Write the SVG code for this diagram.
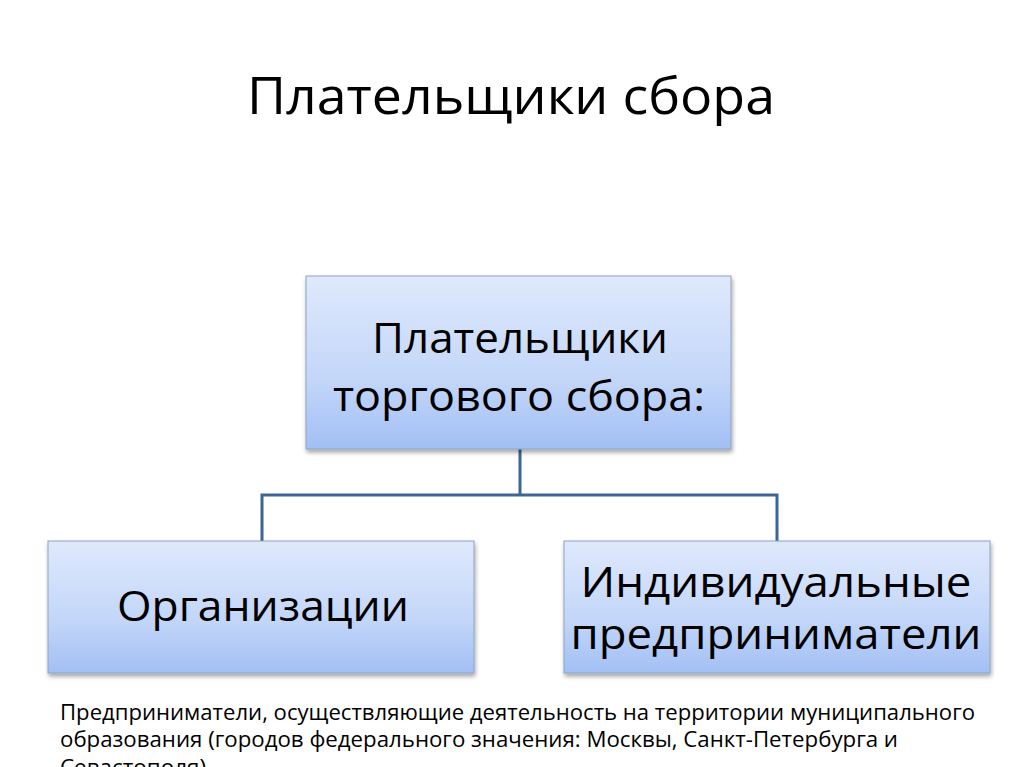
<svg xmlns="http://www.w3.org/2000/svg" width="1024" height="767" viewBox="0 0 1024 767">
<defs>
<linearGradient id="g" x1="0" y1="0" x2="0" y2="1">
<stop offset="0" stop-color="#dfe9fc"/>
<stop offset="0.6" stop-color="#c3d6f9"/>
<stop offset="1" stop-color="#a2bff4"/>
</linearGradient>
<filter id="sh" x="-5%" y="-5%" width="110%" height="120%">
<feDropShadow dx="1" dy="3" stdDeviation="2" flood-color="#000" flood-opacity="0.35"/>
</filter>
</defs>
<style>
.box{fill:url(#g);stroke:#8ea3c2;stroke-width:1;filter:url(#sh)}
.t{font-family:"Open Sans","Noto Sans","Liberation Sans",sans-serif;fill:#000;text-anchor:middle}
.big{font-size:42px}
.note{font-family:"Open Sans","Noto Sans","Liberation Sans",sans-serif;font-size:21px;fill:#000}
.conn{fill:none;stroke:#3d6597;stroke-width:3}
</style>
<rect width="1024" height="767" fill="#fff"/>
<text class="t" x="511" y="114" font-size="52" textLength="528" lengthAdjust="spacingAndGlyphs">Плательщики сбора</text>
<g id="connectors">
<path class="conn" d="M520 449 V495 M262 541 V495 H777 V541"/>
</g>
<g id="top">
<rect class="box" x="306" y="276" width="425" height="173"/>
<text class="t big" x="520" y="353" textLength="296" lengthAdjust="spacingAndGlyphs">Плательщики</text>
<text class="t big" x="519" y="411" textLength="372" lengthAdjust="spacingAndGlyphs">торгового сбора:</text>
</g>
<g id="org">
<rect class="box" x="48" y="541" width="426" height="132"/>
<text class="t big" x="263" y="621" textLength="292" lengthAdjust="spacingAndGlyphs">Организации</text>
</g>
<g id="ip">
<rect class="box" x="564" y="541" width="426" height="132"/>
<text class="t big" x="776" y="597" textLength="391" lengthAdjust="spacingAndGlyphs">Индивидуальные</text>
<text class="t big" x="776" y="649" textLength="411" lengthAdjust="spacingAndGlyphs">предприниматели</text>
</g>
<g id="note">
<text class="note" x="60" y="720" textLength="915" lengthAdjust="spacingAndGlyphs">Предприниматели, осуществляющие деятельность на территории муниципального</text>
<text class="note" x="60" y="747" textLength="838" lengthAdjust="spacingAndGlyphs">образования (городов федерального значения: Москвы, Санкт-Петербурга и</text>
<text class="note" x="60" y="775" textLength="146" lengthAdjust="spacingAndGlyphs">Севастополя)</text>
</g>
</svg>
